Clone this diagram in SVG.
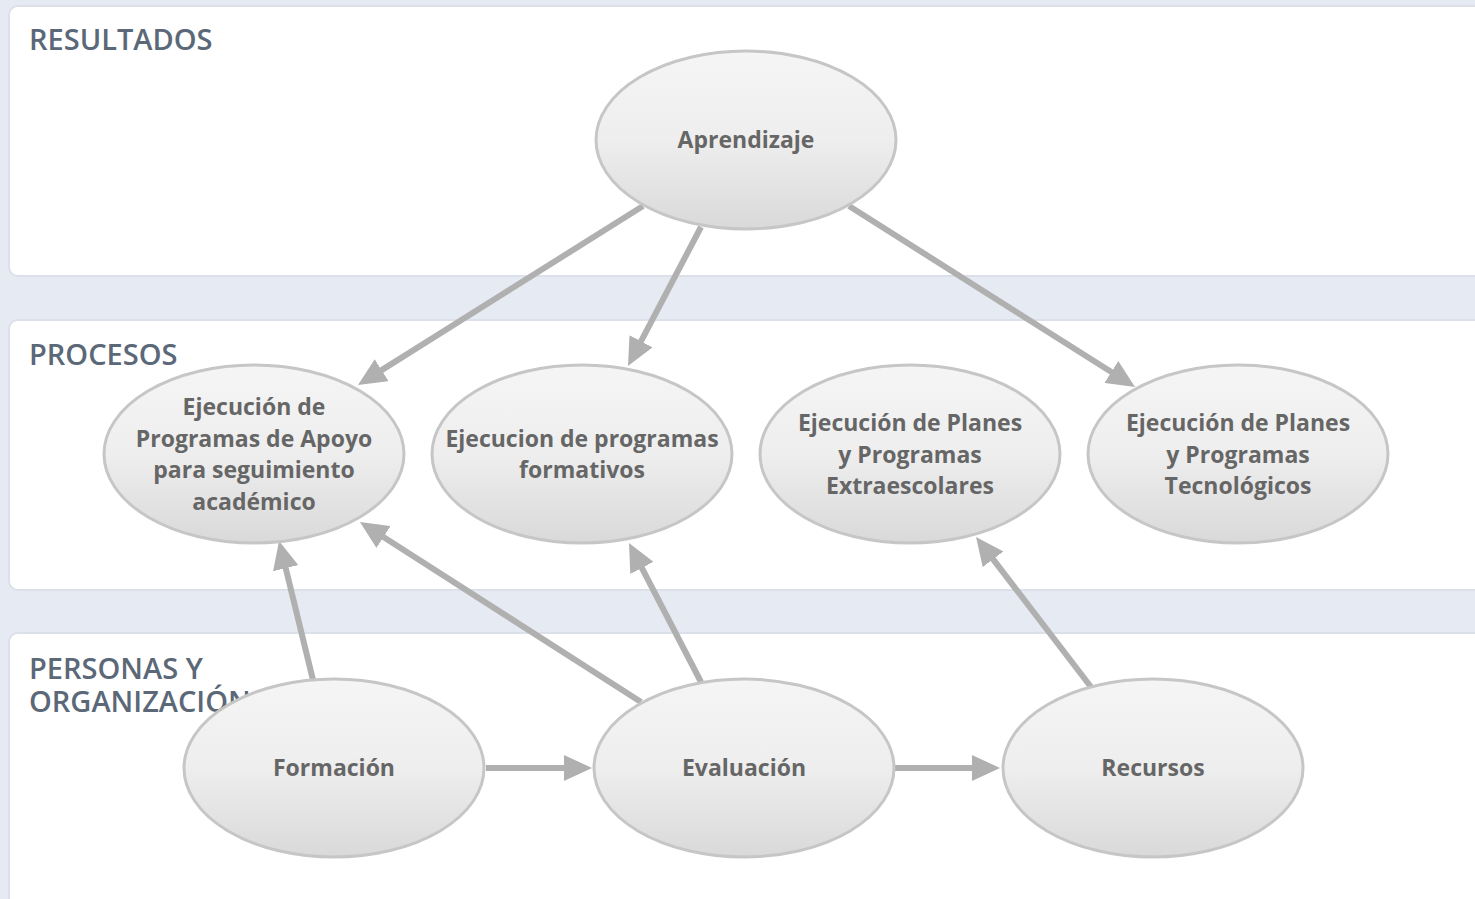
<svg xmlns="http://www.w3.org/2000/svg" width="1475" height="899" viewBox="0 0 1475 899">
<defs>
<linearGradient id="g" x1="0" y1="0" x2="0" y2="1">
<stop offset="0" stop-color="#f5f5f5"/>
<stop offset="0.5" stop-color="#eeeeee"/>
<stop offset="1" stop-color="#d9d9d9"/>
</linearGradient>
<marker id="ah" viewBox="0 0 28 26" refX="8" refY="13" markerWidth="28" markerHeight="26" markerUnits="userSpaceOnUse" orient="auto">
<path d="M0,0 L28,13 L0,26 Z" fill="#b0b0b0"/>
</marker>
<style>
.panel{fill:#ffffff;stroke:#dce1e9;stroke-width:2}
.hdr{font-family:"Open Sans","Noto Sans",sans-serif;font-weight:600;font-size:29px;fill:#5b6878}
.node ellipse{fill:url(#g);stroke:#c6c6c6;stroke-width:3}
.node text{font-family:"Open Sans","Noto Sans",sans-serif;font-weight:700;font-size:23px;fill:#666666;text-anchor:middle}
.conn line{stroke:#b0b0b0;stroke-width:6;marker-end:url(#ah)}
</style>
</defs>
<rect x="0" y="0" width="1475" height="899" fill="#e6eaf2"/>
<g id="lanes">
<rect class="panel" x="9" y="6" width="1480" height="270" rx="9"/>
<rect class="panel" x="9" y="320" width="1480" height="270" rx="9"/>
<rect class="panel" x="9" y="633" width="1480" height="290" rx="9"/>
<text class="hdr" x="29" y="50">RESULTADOS</text>
<text class="hdr" x="29" y="365">PROCESOS</text>
<text class="hdr" x="29" y="679">PERSONAS Y<tspan x="29" y="712">ORGANIZACIÓN</tspan></text>
</g>
<g id="connectors" class="conn">
<line x1="643" y1="206" x2="374.9" y2="374.4"/>
<line x1="701" y1="227" x2="637.3" y2="348.3"/>
<line x1="849" y1="206" x2="1118.1" y2="376.3"/>
<line x1="313" y1="680" x2="283.8" y2="560.4"/>
<line x1="641" y1="702" x2="376.8" y2="532.8"/>
<line x1="701" y1="682" x2="638.2" y2="560.8"/>
<line x1="1091" y1="687" x2="988.2" y2="552.9"/>
<line x1="486" y1="768" x2="572" y2="768"/>
<line x1="895" y1="768" x2="980" y2="768"/>
</g>
<g id="aprendizaje" class="node">
<ellipse cx="746" cy="140" rx="150" ry="89"/>
<text x="746" y="148">Aprendizaje</text>
</g>
<g id="apoyo" class="node">
<ellipse cx="254" cy="454" rx="150" ry="89"/>
<text x="254" y="415">Ejecución de<tspan x="254" y="447">Programas de Apoyo</tspan><tspan x="254" y="478">para seguimiento</tspan><tspan x="254" y="510">académico</tspan></text>
</g>
<g id="formativos" class="node">
<ellipse cx="582" cy="454" rx="150" ry="89"/>
<text x="582" y="447">Ejecucion de programas<tspan x="582" y="478">formativos</tspan></text>
</g>
<g id="extraescolares" class="node">
<ellipse cx="910" cy="454" rx="150" ry="89"/>
<text x="910" y="431">Ejecución de Planes<tspan x="910" y="463">y Programas</tspan><tspan x="910" y="494">Extraescolares</tspan></text>
</g>
<g id="tecnologicos" class="node">
<ellipse cx="1238" cy="454" rx="150" ry="89"/>
<text x="1238" y="431">Ejecución de Planes<tspan x="1238" y="463">y Programas</tspan><tspan x="1238" y="494">Tecnológicos</tspan></text>
</g>
<g id="formacion" class="node">
<ellipse cx="334" cy="768" rx="150" ry="89"/>
<text x="334" y="776">Formación</text>
</g>
<g id="evaluacion" class="node">
<ellipse cx="744" cy="768" rx="150" ry="89"/>
<text x="744" y="776">Evaluación</text>
</g>
<g id="recursos" class="node">
<ellipse cx="1153" cy="768" rx="150" ry="89"/>
<text x="1153" y="776">Recursos</text>
</g>
</svg>
